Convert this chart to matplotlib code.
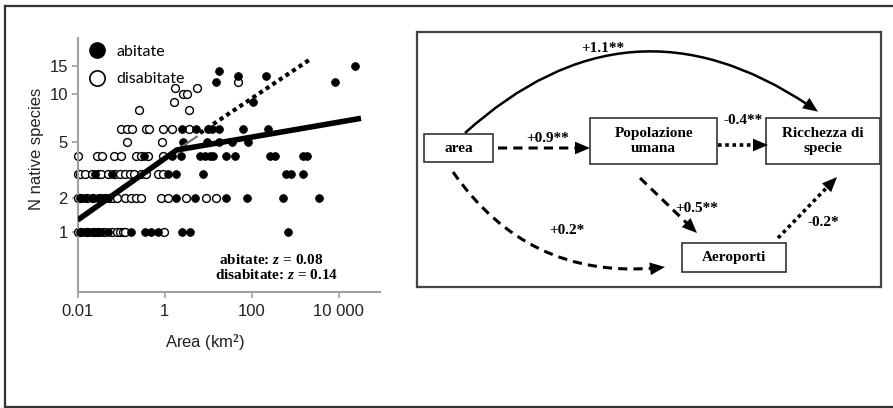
import numpy as np
import matplotlib
matplotlib.use("Agg")
import matplotlib.pyplot as plt
import matplotlib.ticker as mticker
from matplotlib.lines import Line2D
from matplotlib.patches import FancyArrowPatch, Rectangle

plt.rcParams["mathtext.fontset"] = "custom"
plt.rcParams["mathtext.it"] = "Liberation Serif:italic:bold"
plt.rcParams["mathtext.rm"] = "Liberation Serif:bold"

# ── Dati: area (km2) delle isole per numero di specie native ──────────────────

# isole abitate (cerchi pieni)
ABITATE = {
    15: [23300],
    14: [18],
    13: [48, 210],
    12: [15.5, 8100],
    9:  [105],
    6:  [2.5, 5.2, 9.8, 12, 18, 62, 233],
    5:  [2.7, 9.2, 18, 35, 81],
    4:  [0.33, 1.45, 2.4, 6.4, 8.3, 10.8, 12.7, 25, 42, 260, 350, 1480, 1840],
    3:  [0.025, 0.06, 1.2, 1.8, 7.6, 630, 810, 1480],
    2:  [0.011, 0.0145, 0.021, 0.029, 0.038, 0.05, 1.86, 4.9, 25, 78, 525, 3470],
    1:  [0.011, 0.0145, 0.018, 0.021, 0.028, 0.035, 0.05, 0.17, 0.35, 0.49,
         0.70, 2.5, 3.8, 690],
}

# isole disabitate (cerchi vuoti)
DISABITATE = {
    12: [48],
    11: [1.7, 5.4],
    10: [2.66, 3.2],
    9:  [1.6],
    8:  [0.25, 3.6],
    6:  [0.10, 0.134, 0.18, 0.37, 0.44, 0.90, 1.45, 3.6],
    5:  [0.137, 0.88],
    4:  [0.01, 0.028, 0.037, 0.069, 0.097, 0.215, 0.28, 0.41, 0.90],
    3:  [0.01, 0.011, 0.0145, 0.021, 0.029, 0.035, 0.05, 0.071, 0.092, 0.12,
         0.157, 0.2, 0.29, 0.38, 0.70, 0.91],
    2:  [0.01, 0.012, 0.016, 0.023, 0.032, 0.042, 0.055, 0.065, 0.08, 0.12,
         0.17, 0.22, 0.29, 0.84, 1.19, 3.15, 9.1, 15.5],
    1:  [0.01, 0.012, 0.016, 0.024, 0.03, 0.04, 0.06, 0.078, 0.092, 0.11,
         0.12, 0.95],
}

# rette di regressione (segmentata), estremi in (area, N specie)
FIT_MAIN_AREA = [0.01, 1.89, 32600]
FIT_MAIN_N = [1.30, 4.39, 7.07]
FIT_THIN_AREA = [1.89, 5.44]
FIT_THIN_N = [4.39, 5.38]
FIT_DOT_AREA = [6.48, 2190]
FIT_DOT_N = [5.69, 16.36]

X_TICKS = [0.01, 1, 100, 10000]
X_TICKLABELS = ["0.01", "1", "100", "10 000"]
Y_TICKS = [1, 2, 5, 10, 15]

# coefficienti del path model
COEF = {
    "area_ric": "+1.1**",
    "area_pop": "+0.9**",
    "pop_ric": "-0.4**",
    "pop_aer": "+0.5**",
    "area_aer": "+0.2*",
    "aer_ric": "-0.2*",
}


def flatten(rows):
    area, n = [], []
    for k, vals in rows.items():
        area += vals
        n += [k] * len(vals)
    return np.array(area), np.array(n)


def _fwd(s):
    return np.log10(np.clip(np.asarray(s, float) + 0.7, 1e-6, None))


def _inv(v):
    return 10.0 ** np.asarray(v, float) - 0.7


W, H = 893, 408
fig = plt.figure(figsize=(W / 100, H / 100), dpi=100)

# ── Pannello sinistro: curva specie-area ─────────────────────────────────────

ax = fig.add_axes([77.7 / W, 1 - 291.7 / H, 302.3 / W, 253.7 / H])
ax.set_xscale("log")
ax.set_yscale("function", functions=(_fwd, _inv))
ax.set_xlim(0.01, 89000)
ax.set_ylim(0.068, 22)

a_d, n_d = flatten(DISABITATE)
a_a, n_a = flatten(ABITATE)
ax.scatter(a_d, n_d, s=32, facecolor="white", edgecolor="black",
           linewidth=1.0, zorder=2, clip_on=False)
ax.scatter(a_a, n_a, s=32, facecolor="black", edgecolor="black",
           linewidth=0.5, zorder=3, clip_on=False)

ax.plot(FIT_THIN_AREA, FIT_THIN_N, color="#707070", lw=1.5, zorder=4)
ax.plot(FIT_MAIN_AREA, FIT_MAIN_N, color="black", lw=4, zorder=5,
        solid_capstyle="butt")
ax.plot(FIT_DOT_AREA, FIT_DOT_N, color="black", lw=3, zorder=5,
        linestyle=(0, (1, 0.9)), dash_capstyle="butt")

ax.set_xticks(X_TICKS)
ax.set_xticklabels(X_TICKLABELS)
ax.xaxis.set_minor_locator(mticker.NullLocator())
ax.set_yticks(Y_TICKS)
ax.set_yticklabels([str(v) for v in Y_TICKS])
ax.yaxis.set_minor_locator(mticker.NullLocator())

for side in ("top", "right"):
    ax.spines[side].set_visible(False)
for side in ("left", "bottom"):
    ax.spines[side].set_color("#a0a0a0")
    ax.spines[side].set_linewidth(1.5)
ax.tick_params(axis="both", direction="out", length=4, width=1.2,
               color="#a0a0a0", labelcolor="#222222", labelsize=12)
ax.tick_params(axis="x", pad=5)
ax.tick_params(axis="y", pad=3)
for lab in ax.get_xticklabels() + ax.get_yticklabels():
    lab.set_family("Liberation Sans")

ax.set_xlabel("Area (km$^2$)", fontsize=12, family="Liberation Sans",
              color="#222222", va="center")
ax.xaxis.set_label_coords(0.423, -0.202)
ax.set_ylabel("N native species", fontsize=12, family="Liberation Sans",
              color="#222222", va="center")
ax.yaxis.set_label_coords(-0.135, 0.5625)

handles = [
    Line2D([], [], ls="none", marker="o", ms=11, mfc="black", mec="black"),
    Line2D([], [], ls="none", marker="o", ms=11, mfc="white", mec="black",
           mew=1.2),
]
ax.legend(handles, ["abitate", "disabitate"], loc="upper left",
          bbox_to_anchor=(0.011, 1.0), frameon=False,
          prop={"family": "Lato", "size": 11.5}, handlelength=1.2,
          handletextpad=0.6, labelspacing=0.85, borderaxespad=0,
          borderpad=0.4)

zfont = dict(family="Liberation Serif", weight="bold", fontsize=11,
             ha="center", va="center", transform=ax.transAxes)
ax.text(0.639, 0.125, "abitate: $z$ = 0.08", **zfont)
ax.text(0.659, 0.066, "disabitate: $z$ = 0.14", **zfont)

# ── Pannello destro: path model ──────────────────────────────────────────────

bx0, by0, bx1, by1 = 417, 32, 881, 287
ax2 = fig.add_axes([bx0 / W, 1 - by1 / H, (bx1 - bx0) / W, (by1 - by0) / H])
ax2.set_xlim(0, bx1 - bx0)
ax2.set_ylim(by1 - by0, 0)
ax2.set_xticks([])
ax2.set_yticks([])
for sp in ax2.spines.values():
    sp.set_color("#444444")
    sp.set_linewidth(1.6)

boxfont = dict(family="Liberation Serif", weight="bold", fontsize=11,
               ha="center", va="center", linespacing=1.25)
boxes = {
    "area": (7, 102, 68.7, 28.3, "area"),
    "pop": (173, 85.7, 127.3, 46.3, "Popolazione\numana"),
    "ric": (349, 85.7, 114, 46.3, "Ricchezza di\nspecie"),
    "aer": (264.7, 211.3, 104, 29, "Aeroporti"),
}
for x0, y0, w, h, txt in boxes.values():
    ax2.add_patch(Rectangle((x0, y0), w, h, facecolor="white",
                            edgecolor="#333333", lw=1.2, zorder=2))
    ax2.text(x0 + w / 2, y0 + h / 2, txt, zorder=3, **boxfont)


def arrow(p0, p1, ls, rad=0.0, lw=2.2):
    cs = f"arc3,rad={rad}"
    ax2.add_patch(FancyArrowPatch(p0, p1, arrowstyle="-", connectionstyle=cs,
                                  linestyle=ls, lw=lw, color="black",
                                  shrinkA=0, shrinkB=8, capstyle="butt",
                                  zorder=4))
    ax2.add_patch(FancyArrowPatch(p0, p1,
                                  arrowstyle="-|>,head_length=0.9,head_width=0.38",
                                  mutation_scale=12, connectionstyle=cs,
                                  lw=0, color="black", shrinkA=0, shrinkB=0,
                                  zorder=4))


dashed = (0, (3, 2))
dotted = (0, (1, 1))
arrow((48, 101), (401, 79.7), "-", rad=-0.4, lw=1.8)
arrow((81, 116), (173, 116), dashed)
arrow((301, 113), (351, 113), dotted, lw=2.6)
arrow((223, 146), (280, 201), dashed)
arrow((36, 140), (248, 235), dashed, rad=0.3)
arrow((361, 206), (420, 145), dotted, lw=2.6)

labfont = dict(family="Liberation Serif", weight="bold", fontsize=11,
               ha="center", va="center", zorder=5)
ax2.text(186, 16, COEF["area_ric"], **labfont)
ax2.text(131, 106, COEF["area_pop"], **labfont)
ax2.text(326, 88, COEF["pop_ric"], **labfont)
ax2.text(280, 176, COEF["pop_aer"], **labfont)
ax2.text(150, 198, COEF["area_aer"], **labfont)
ax2.text(406, 191, COEF["aer_ric"], **labfont)

# cornice esterna della figura
frame = dict(transform=fig.transFigure, color="#333333", lw=1.6)
fig.add_artist(Line2D([5 / W, 5 / W], [1 - 5.5 / H, 1 - 406.5 / H], **frame))
fig.add_artist(Line2D([5 / W, 1], [1 - 5.5 / H, 1 - 5.5 / H], **frame))
fig.add_artist(Line2D([5 / W, 1], [1 - 406.5 / H, 1 - 406.5 / H], **frame))

fig.savefig("out.png", dpi=100)
